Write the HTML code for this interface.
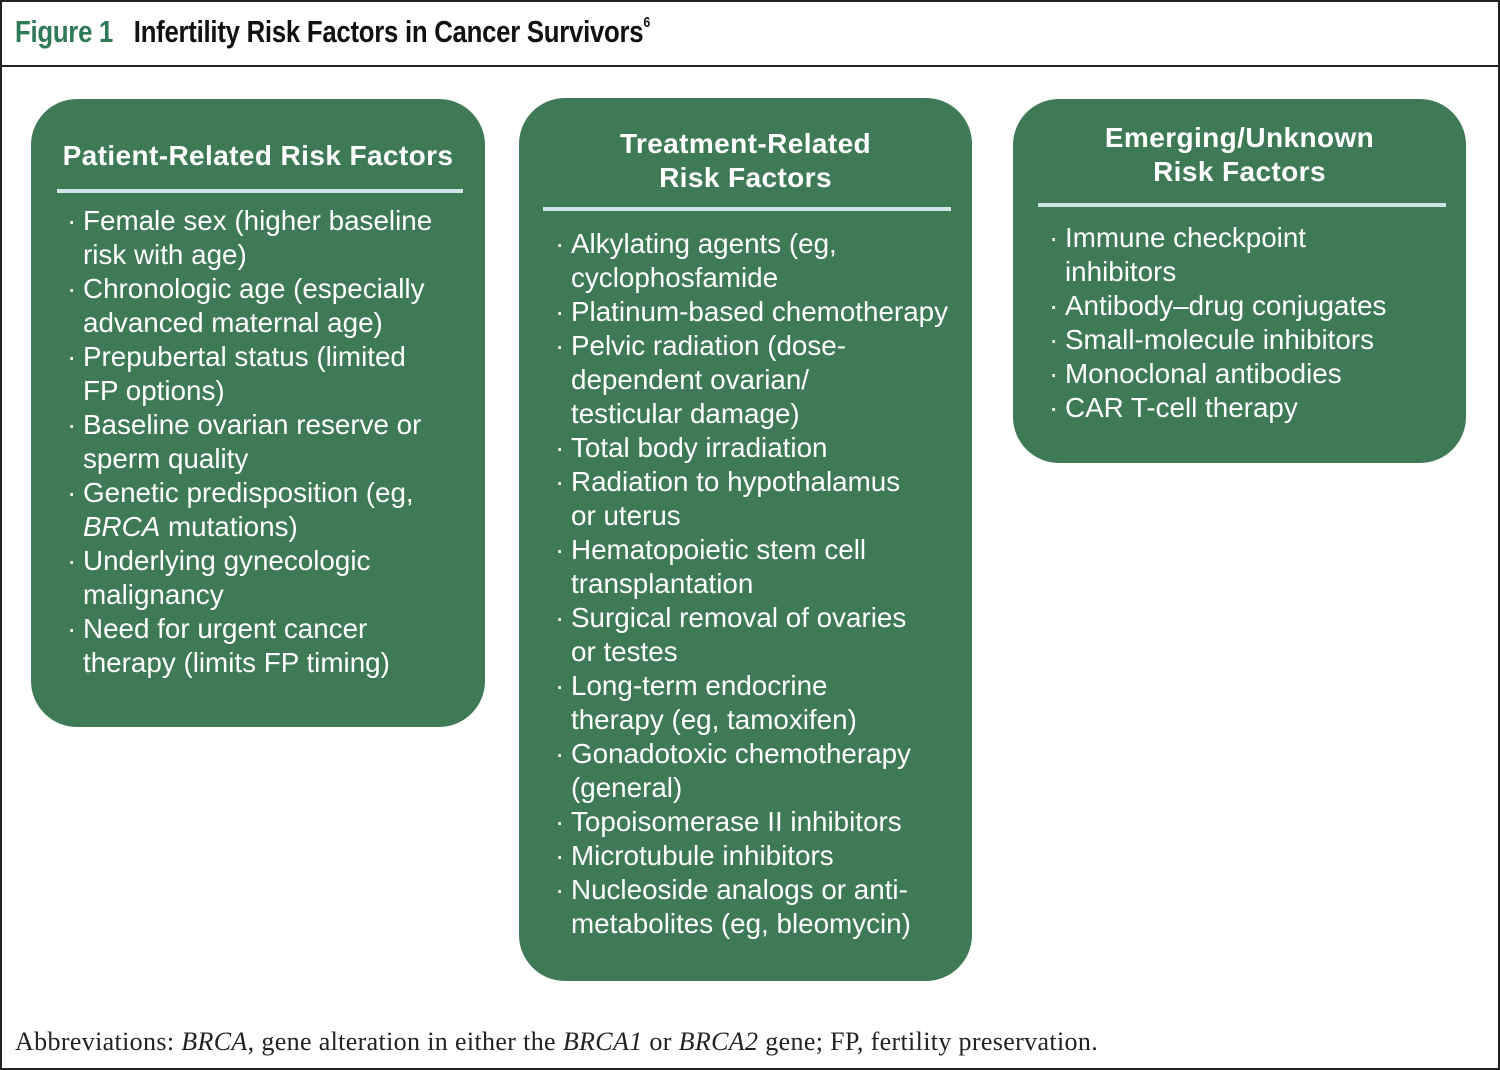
<!DOCTYPE html>
<html><head><meta charset="utf-8"><style>
*{margin:0;padding:0;box-sizing:border-box}
body{width:1500px;height:1070px;background:#fff;position:relative;overflow:hidden;font-family:"Liberation Sans",sans-serif}
.frame{position:absolute;left:0;top:0;width:1500px;height:1070px;border:2px solid #222}
.hline{position:absolute;left:0;top:65px;width:1500px;height:2px;background:#222}
.title{position:absolute;left:15px;top:14px;font-size:31px;font-weight:bold;white-space:nowrap;color:#111;letter-spacing:-0.3px;transform:scaleX(0.83);transform-origin:left top}
.title .fig{color:#2f7a55}
.title sup{font-size:15px;vertical-align:15px}
.box{position:absolute;background:#3f7a57;border-radius:46px}
.bt{position:absolute;color:#fff;font-weight:bold;font-size:28px;text-align:center;line-height:34px;white-space:nowrap;letter-spacing:0.4px}
.div{position:absolute;height:4px;background:#cde3e4}
.list{position:absolute;color:#fff;font-size:27.8px;line-height:34px;white-space:nowrap}
.list div{position:relative;padding-left:15px}
.list .b{position:absolute;left:-1px;top:0}
.foot{position:absolute;left:15px;top:1027px;font-family:"Liberation Serif",serif;font-size:26px;letter-spacing:0.35px;color:#222;white-space:nowrap}
</style></head><body>
<div class="frame"></div>
<div class="hline"></div>
<div class="title"><span class="fig">Figure 1</span>&nbsp;&nbsp; Infertility Risk Factors in Cancer Survivors<sup>6</sup></div>

<div class="box" style="left:31px;top:99px;width:454px;height:628px"></div>
<div class="bt" style="left:31px;top:139px;width:454px">Patient-Related Risk Factors</div>
<div class="div" style="left:57px;top:189px;width:406px"></div>
<div class="list" style="left:68px;top:204px">
<div><span class="b">·</span>Female sex (higher baseline</div>
<div>risk with age)</div>
<div><span class="b">·</span>Chronologic age (especially</div>
<div>advanced maternal age)</div>
<div><span class="b">·</span>Prepubertal status (limited</div>
<div>FP options)</div>
<div><span class="b">·</span>Baseline ovarian reserve or</div>
<div>sperm quality</div>
<div><span class="b">·</span>Genetic predisposition (eg,</div>
<div><i>BRCA</i> mutations)</div>
<div><span class="b">·</span>Underlying gynecologic</div>
<div>malignancy</div>
<div><span class="b">·</span>Need for urgent cancer</div>
<div>therapy (limits FP timing)</div>
</div>

<div class="box" style="left:519px;top:98px;width:453px;height:883px"></div>
<div class="bt" style="left:519px;top:127px;width:453px">Treatment-Related<br>Risk Factors</div>
<div class="div" style="left:543px;top:207px;width:408px"></div>
<div class="list" style="left:556px;top:227px">
<div><span class="b">·</span>Alkylating agents (eg,</div>
<div>cyclophosfamide</div>
<div><span class="b">·</span>Platinum-based chemotherapy</div>
<div><span class="b">·</span>Pelvic radiation (dose-</div>
<div>dependent ovarian/</div>
<div>testicular damage)</div>
<div><span class="b">·</span>Total body irradiation</div>
<div><span class="b">·</span>Radiation to hypothalamus</div>
<div>or uterus</div>
<div><span class="b">·</span>Hematopoietic stem cell</div>
<div>transplantation</div>
<div><span class="b">·</span>Surgical removal of ovaries</div>
<div>or testes</div>
<div><span class="b">·</span>Long-term endocrine</div>
<div>therapy (eg, tamoxifen)</div>
<div><span class="b">·</span>Gonadotoxic chemotherapy</div>
<div>(general)</div>
<div><span class="b">·</span>Topoisomerase II inhibitors</div>
<div><span class="b">·</span>Microtubule inhibitors</div>
<div><span class="b">·</span>Nucleoside analogs or anti-</div>
<div>metabolites (eg, bleomycin)</div>
</div>

<div class="box" style="left:1013px;top:99px;width:453px;height:364px"></div>
<div class="bt" style="left:1013px;top:121px;width:453px">Emerging/Unknown<br>Risk Factors</div>
<div class="div" style="left:1038px;top:203px;width:408px"></div>
<div class="list" style="left:1050px;top:221px">
<div><span class="b">·</span>Immune checkpoint</div>
<div>inhibitors</div>
<div><span class="b">·</span>Antibody–drug conjugates</div>
<div><span class="b">·</span>Small-molecule inhibitors</div>
<div><span class="b">·</span>Monoclonal antibodies</div>
<div><span class="b">·</span>CAR T-cell therapy</div>
</div>

<div class="foot">Abbreviations: <i>BRCA</i>, gene alteration in either the <i>BRCA1</i> or <i>BRCA2</i> gene; FP, fertility preservation.</div>
</body></html>
